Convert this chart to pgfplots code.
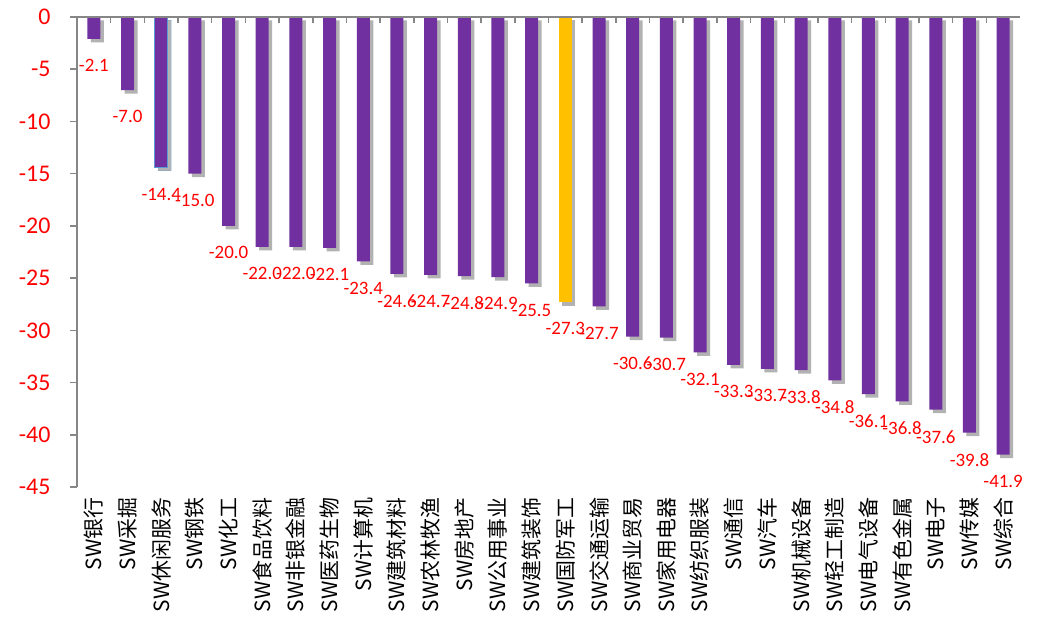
\documentclass[border=0pt]{standalone}
\usepackage{fontspec}
\setmainfont{Carlito}
\newfontfamily\cjk{Noto Sans CJK SC}
\usepackage{pgfplots}
\pgfplotsset{compat=1.18}
\usetikzlibrary{shadows}
\definecolor{barpurple}{HTML}{7030A0}
\definecolor{baryellow}{HTML}{FFC000}
\definecolor{axisgray}{HTML}{868686}
\definecolor{outlineblue}{HTML}{5B9BD5}
\tikzset{barshadow/.style={drop shadow={shadow xshift=3.5bp, shadow yshift=-3.5bp, fill=black, opacity=0.3}}}
\begin{document}
\begin{tikzpicture}
\begin{axis}[
 scale only axis, width=943bp, height=470bp,
 xmin=-0.5, xmax=27.5, ymin=-45, ymax=0,
 axis line style={draw=none},
 xtick={0,...,27},
 xticklabels={SW银行,SW采掘,SW休闲服务,SW钢铁,SW化工,SW食品饮料,SW非银金融,SW医药生物,SW计算机,SW建筑材料,SW农林牧渔,SW房地产,SW公用事业,SW建筑装饰,SW国防军工,SW交通运输,SW商业贸易,SW家用电器,SW纺织服装,SW通信,SW汽车,SW机械设备,SW轻工制造,SW电气设备,SW有色金属,SW电子,SW传媒,SW综合},
 x tick style={draw=none},
 xticklabel style={rotate=90, anchor=east, font=\cjk\fontsize{21}{21}\selectfont, black},
 ytick={-45,-40,...,0},
 ytick pos=left,
 ytick align=outside,
 major tick length=7bp,
 y tick style={axisgray, line width=1.5bp},
 yticklabel style={red, font=\fontsize{24}{24}\selectfont, xshift=-16bp},
 /pgf/number format/assume math mode=true,
 ybar, bar width=13bp, bar shift=0pt,
 nodes near coords,
 every node near coord/.append style={red, font=\fontsize{19}{19}\selectfont, yshift=-17bp,
   /pgf/number format/fixed, /pgf/number format/fixed zerofill, /pgf/number format/precision=1},
 clip=false,
]
\addplot[fill=barpurple, draw=none, barshadow] coordinates {
(0,-2.1) (1,-7.0) (3,-15.0) (4,-20.0) (5,-22.0) (6,-22.0) (7,-22.1) (8,-23.4) (9,-24.6) (10,-24.7) (11,-24.8) (12,-24.9) (13,-25.5) (15,-27.7) (16,-30.6) (17,-30.7) (18,-32.1) (19,-33.3) (20,-33.7) (21,-33.8) (22,-34.8) (23,-36.1) (24,-36.8) (25,-37.6) (26,-39.8) (27,-41.9)
};
\addplot[fill=barpurple, draw=outlineblue, line width=1bp, barshadow] coordinates {(2,-14.4)};
\addplot[fill=baryellow, draw=none, barshadow] coordinates {(14,-27.3)};
\draw[axisgray, line width=1.5bp] (rel axis cs:0,0) -- (rel axis cs:0,1) -- (rel axis cs:1,1);
\pgfplotsinvokeforeach{0,...,26}{\draw[axisgray, line width=1.5bp] (axis cs:#1.5,0) -- ([yshift=-6bp]axis cs:#1.5,0);}
\end{axis}
\path (current axis.south west) ++(-77bp,-133bp) coordinate (bbA);
\path (current axis.north east) ++(21bp,17bp) coordinate (bbB);
\path (bbA) rectangle (bbB);
\end{tikzpicture}
\end{document}
